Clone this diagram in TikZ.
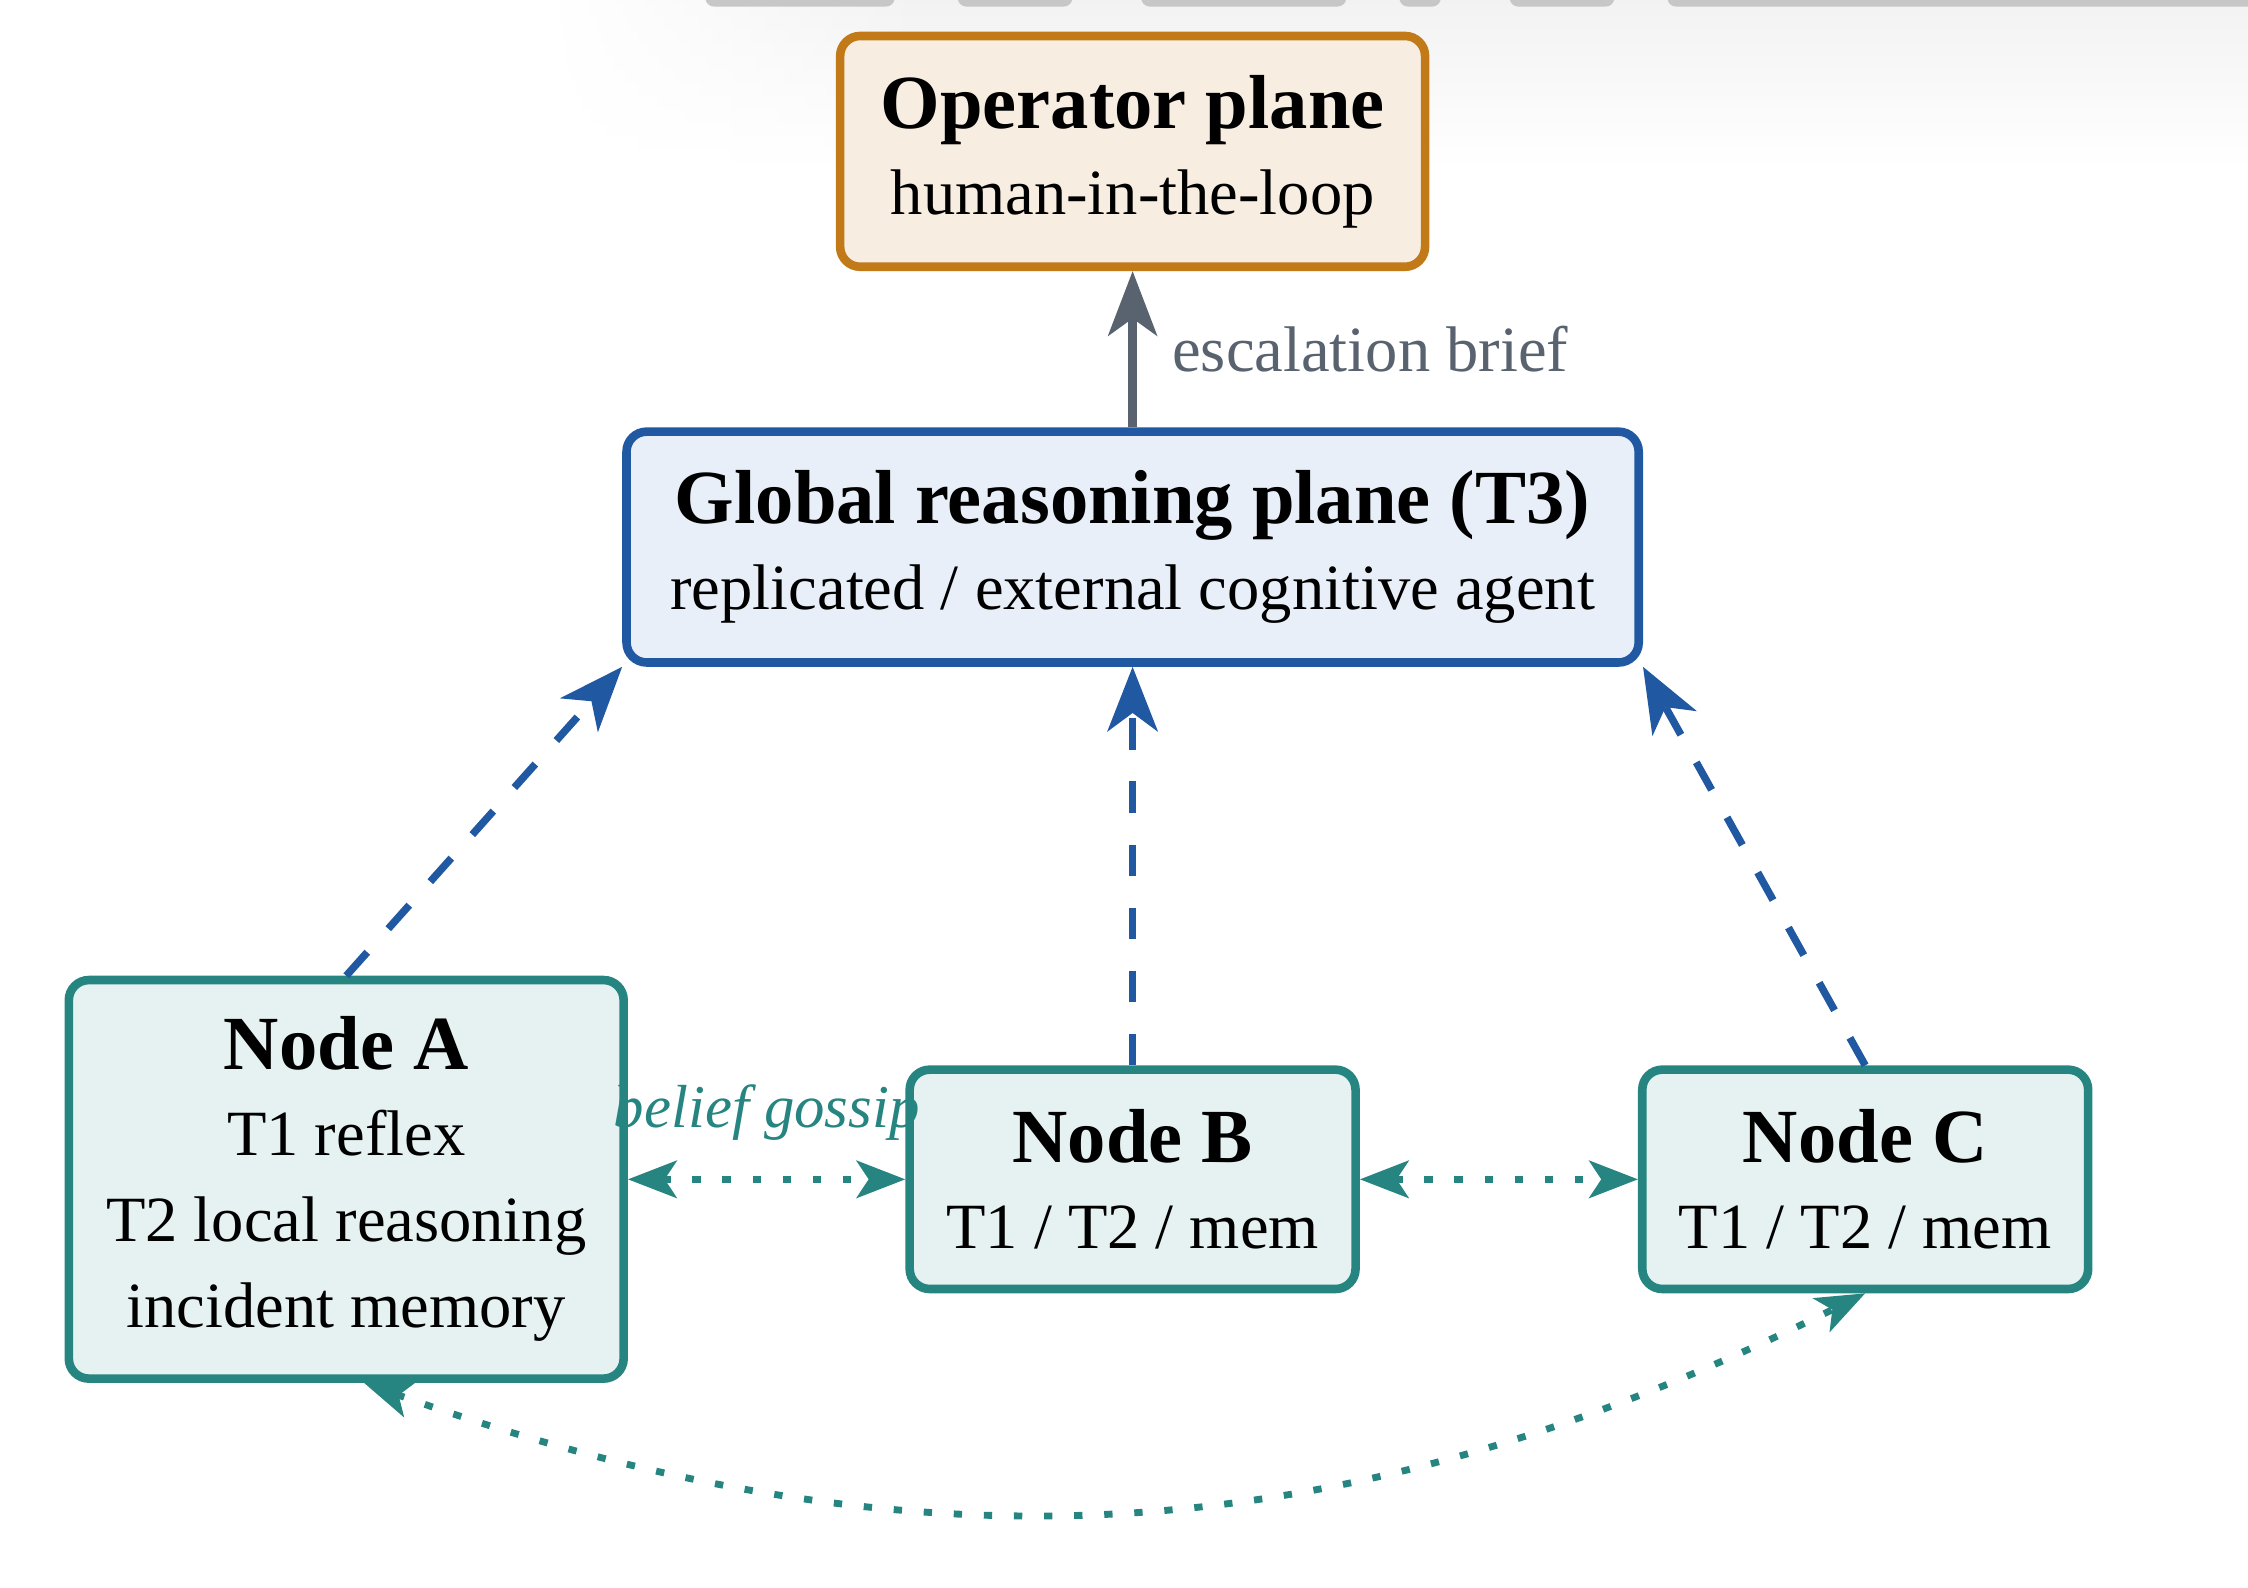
\documentclass[tikz,border=0pt]{standalone}
\usepackage{fontspec}
\setmainfont{Liberation Serif}
\usepackage{tikz}
\usetikzlibrary{arrows.meta}
\usetikzlibrary{fadings}
\definecolor{mteal}{rgb}{0.15, 0.52, 0.50}
\definecolor{mtealfill}{rgb}{0.90, 0.95, 0.945}
\definecolor{mblue}{rgb}{0.125, 0.35, 0.63}
\definecolor{mbluefill}{rgb}{0.91, 0.937, 0.973}
\definecolor{morange}{rgb}{0.76, 0.48, 0.10}
\definecolor{morangefill}{rgb}{0.97, 0.933, 0.882}
\definecolor{mgray}{rgb}{0.35, 0.39, 0.44}
\definecolor{mpill}{rgb}{0.78, 0.78, 0.78}
\newcommand{\boxtitle}[1]{{\fontsize{26.7}{30}\selectfont\bfseries #1}}
\tikzfading[name = hazefade, left color = transparent!100, right color = transparent!0]
\tikzset{plane/.style = {draw, rounded corners = 7pt, line width = 3pt, align = center,
                         inner sep = 0, font = \fontsize{22.5}{30}\selectfont}}
\tikzset{upward/.style = {mblue, line width = 2.6pt, dash pattern = on 11pt off 11pt,
                          -{Stealth[length = 22.5pt, width = 17.5pt, inset = 6.4pt]}}}
\tikzset{gossip/.style = {mteal, line width = 2.4pt, dash pattern = on 2.9pt off 7.6pt,
                          {Stealth[length = 17pt, width = 13pt, inset = 4.2pt]}-{Stealth[length = 17pt, width = 13pt, inset = 4.2pt]}}}

\begin{document}
\begin{tikzpicture}[x = 0.5pt, y = 0.5pt]
          \useasboundingbox (0, 0) rectangle (1568, 1107.6);
          % strip along the top edge
          \shade [top color = black!5, bottom color = white, path fading = hazefade] (380, 990) rectangle (640, 1107.6);
          \shade [top color = black!5, bottom color = white] (640, 990) rectangle (1568, 1107.6);
          \foreach \a/\b in {492/624, 668/748, 796/939, 976/1005, 1053/1126, 1163/1590} {
             \fill [mpill, rounded corners = 3pt] (\a, 1103) rectangle (\b, 1118);
          }
          \node [plane, draw = morange, fill = morangefill, minimum width = 204pt, minimum height = 80.5pt]
             (op) at (790, 1002) {\boxtitle{Operator plane}\\ human-in-the-loop};
          \node [plane, draw = mblue, fill = mbluefill, minimum width = 353pt, minimum height = 80.5pt]
             (glob) at (790, 726) {\boxtitle{Global reasoning plane (T3)}\\ replicated / external cognitive agent};
          \node [plane, draw = mteal, fill = mtealfill, minimum width = 193.5pt, minimum height = 139pt]
             (a) at (241.5, 285) {\boxtitle{Node A}\\ T1 reflex\\ T2 local reasoning\\ incident memory};
          \node [plane, draw = mteal, fill = mtealfill, minimum width = 155.5pt, minimum height = 76.5pt]
             (b) at (790, 285) {\boxtitle{Node B}\\ T1 / T2 / mem};
          \node [plane, draw = mteal, fill = mtealfill, minimum width = 155.5pt, minimum height = 76.5pt]
             (c) at (1301, 285) {\boxtitle{Node C}\\ T1 / T2 / mem};
          \draw [mgray, line width = 3pt, -{Stealth[length = 22.5pt, width = 17pt, inset = 6pt]}]
             (glob) -- node [right = 9pt, font = \fontsize{22.5}{30}\selectfont] {escalation brief} (op);
          \draw [upward] (a.north) -- (glob.south west);
          \draw [upward] (b.north) -- (glob.south);
          \draw [upward] (c.north) -- (glob.south east);
          \draw [gossip] (a.east |- b.west) -- node [above = 9pt, font = \fontsize{21.2}{30}\selectfont\itshape] {belief gossip} (b.west);
          \draw [gossip] (b.east) -- (c.west);
          \draw [gossip] (a.-85) to [bend right = 23] (c.south);
        \end{tikzpicture}
\end{document}
